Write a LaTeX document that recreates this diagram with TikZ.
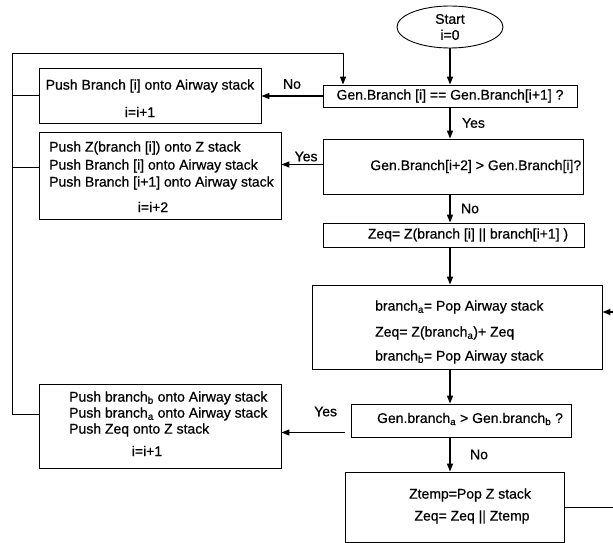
\documentclass[tikz,border=0pt]{standalone}
\usepackage{fontspec}
\setmainfont{Liberation Sans}[FakeBold=0.6]
\usetikzlibrary{arrows.meta,shapes.geometric}

\begin{document}
\begin{tikzpicture}[x=1pt,y=-1pt,font=\fontsize{14}{17}\selectfont,
  box/.style={draw,line width=0.9pt,inner sep=0pt},
  freccia/.style={line width=1.5pt,-{Triangle[length=8pt,width=6pt]}},
  linea/.style={line width=1pt},
  testo/.style={inner sep=0pt,anchor=west}]
\useasboundingbox (0,0) rectangle (613,543);

\coordinate (asse) at (450,0);

% colonna di destra
\node[box,ellipse,minimum width=106pt,minimum height=42pt,align=center] (start) at (450,27) {Start\\[-1pt]i=0};
\node[box,minimum width=254pt,minimum height=22pt] (uguali) at (450,96) {Gen.Branch [i] == Gen.Branch[i+1] ?};
\node[box,minimum width=260pt,minimum height=55pt] (maggiore) at (453,166.5) {};
\node[inner sep=0pt,anchor=east] (tmaggiore) at ([xshift=-2pt]maggiore.east) {Gen.Branch[i+2] > Gen.Branch[i]?};
\node[box,minimum width=261pt,minimum height=24pt] (zeq) at (453.5,235) {};
\node[inner sep=0pt] (tzeq) at (468,235) {Zeq= Z(branch [i] || branch[i+1] )};

\node[box,minimum width=290pt,minimum height=84pt] (pop) at (457,327) {};
\node[testo] (pop1) at (375,307) {branch\textsubscript{a}= Pop Airway stack};
\node[testo] (pop2) at (375,333) {Zeq= Z(branch\textsubscript{a})+ Zeq};
\node[testo] (pop3) at (375,357) {branch\textsubscript{b}= Pop Airway stack};

\node[box,minimum width=220pt,minimum height=33pt] (confronto) at (461,420.5) {};
\node[inner sep=0pt] (tconfronto) at (470,419) {Gen.branch\textsubscript{a} > Gen.branch\textsubscript{b} ?};

\node[box,minimum width=219pt,minimum height=70pt] (ztemp) at (454.5,507) {};
\node[inner sep=0pt] (ztemp1) at (470,495) {Ztemp=Pop Z stack};
\node[inner sep=0pt] (ztemp2) at (472,517) {Zeq= Zeq || Ztemp};

% colonna di sinistra
\node[box,minimum width=222pt,minimum height=55pt] (pushA) at (150,95.5) {};
\node[inner sep=0pt] (pushA1) at (150,86) {Push Branch [i] onto Airway stack};
\node[inner sep=0pt] (pushA2) at (140,112) {i=i+1};

\node[box,minimum width=242pt,minimum height=87pt] (pushB) at (160,175.5) {};
\node[testo] (pushB1) at (49,148) {Push Z(branch [i]) onto Z stack};
\node[testo] (pushB2) at (49,166) {Push Branch [i] onto Airway stack};
\node[testo] (pushB3) at (49,183) {Push Branch [i+1] onto Airway stack};
\node[inner sep=0pt] (pushB4) at (153,207) {i=i+2};

\node[box,minimum width=242pt,minimum height=84pt] (pushC) at (160,426) {};
\node[testo] (pushC1) at (69,398) {Push branch\textsubscript{b} onto Airway stack};
\node[testo] (pushC2) at (69,414) {Push branch\textsubscript{a} onto Airway stack};
\node[testo] (pushC3) at (69,430) {Push Zeq onto Z stack};
\node[inner sep=0pt] (pushC4) at (147,451) {i=i+1};

% frecce verticali
\draw[freccia] (start.south -| asse) -- (uguali.north -| asse);
\draw[freccia] (uguali.south -| asse) -- (maggiore.north -| asse) node[pos=.5,right=8pt] {Yes};
\draw[freccia] (maggiore.south -| asse) -- (zeq.north -| asse) node[pos=.5,right=7pt] {No};
\draw[freccia] (zeq.south -| asse) -- (pop.north -| asse);
\draw[freccia] (pop.south -| asse) -- (confronto.north -| asse);
\draw[freccia] (confronto.south -| asse) -- (ztemp.north -| asse) node[pos=.5,right=16pt] {No};

% frecce orizzontali
\draw[freccia] (uguali.west) -- (uguali.west -| pushA.east) node[pos=.5,above=3pt] {No};
\draw[freccia] ([yshift=2pt]maggiore.west) -- ([yshift=2pt]maggiore.west -| pushB.east) node[pos=.4,above=-1pt] {Yes};
\coordinate (sicon) at ([xshift=-6pt,yshift=-12pt]confronto.west);
\draw[freccia] (sicon) -- (sicon -| pushC.east) node[pos=.3,above=12pt] {Yes};

% ritorno a sinistra
\coordinate (angolo) at (12,54);
\coordinate (sopra) at (343,54);
\coordinate (ritornoC) at ([yshift=12pt]pushC.west);
\draw[linea] (pushA.west) -- (pushA.west -| angolo);
\draw[linea] ([yshift=8.5pt]pushB.west) -- ([yshift=8.5pt]pushB.west -| angolo);
\draw[freccia,line width=1pt] (ritornoC) -| (angolo) -- (sopra) -- (sopra |- uguali.north);

% ritorno a destra
\coordinate (bordo) at (613,312);
\draw[linea] (ztemp.east) -- (ztemp.east -| bordo);
\draw[freccia] (bordo) -- (bordo -| pop.east);

\end{tikzpicture}
\end{document}
